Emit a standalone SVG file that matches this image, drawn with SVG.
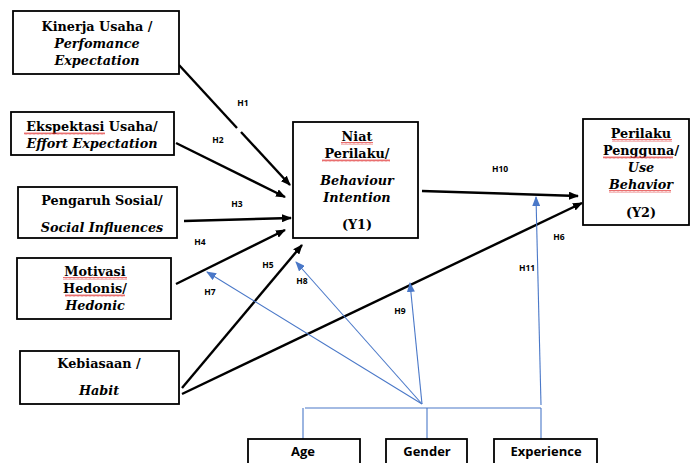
<svg xmlns="http://www.w3.org/2000/svg" width="691" height="463" viewBox="0 0 691 463">
<style>
.box{fill:#fff;stroke:#000;stroke-width:1.8}
.t{font-family:'DejaVu Serif','Liberation Serif',serif;font-weight:700;font-size:12.8px;fill:#000;text-anchor:middle}
.i{font-style:italic}
.s{font-family:'Open Sans','Liberation Sans',Arial,sans-serif;font-weight:bold;font-size:13px;fill:#000;text-anchor:middle}
.h{font-family:'Open Sans','Liberation Sans',Arial,sans-serif;font-weight:bold;font-size:8.5px;fill:#000;text-anchor:middle}
.k{stroke:#000;stroke-width:2.4;fill:none}
.b{stroke:#4a78c8;stroke-width:1.1;fill:none}
</style>
<defs>
<marker id="ak" markerWidth="10" markerHeight="8" refX="9" refY="4" orient="auto" markerUnits="userSpaceOnUse"><path d="M0,0 L10,4 L0,8 Z" fill="#000"/></marker>
<marker id="ab" markerWidth="10" markerHeight="8" refX="9" refY="4" orient="auto" markerUnits="userSpaceOnUse"><path d="M0,0 L10,4 L0,8 Z" fill="#4a78c8"/></marker>
<pattern id="wv" width="4" height="3" patternUnits="userSpaceOnUse"><path d="M0,2.5 L1,0.5 L2,2.5 L3,0.5 L4,2.5" fill="none" stroke="#e03030" stroke-width="0.7"/></pattern>
</defs>

<g id="connectors">
<path class="k" d="M179,65 L237,128"/>
<path class="k" d="M241,132 L290,185" marker-end="url(#ak)"/>
<path class="k" d="M176,143 L285,197" marker-end="url(#ak)"/>
<path class="k" d="M184,221 L291,218" marker-end="url(#ak)"/>
<path class="k" d="M176,284 L285,230" marker-end="url(#ak)"/>
<path class="k" d="M182,388 L302,245" marker-end="url(#ak)"/>
<path class="k" d="M182,394 L582,203" marker-end="url(#ak)"/>
<path class="k" d="M422,191 L578,196" marker-end="url(#ak)"/>
<path class="b" d="M305,408 L541,408"/>
<path class="b" d="M303,408 L303,439"/>
<path class="b" d="M427,408 L427,439"/>
<path class="b" d="M541,408 L541,439"/>
<path class="b" d="M541,405 L536,197" marker-end="url(#ab)"/>
<path class="b" d="M422,404 L207,272" marker-end="url(#ab)"/>
<path class="b" d="M422,404 L296,262" marker-end="url(#ab)"/>
<path class="b" d="M422,404 L410,283" marker-end="url(#ab)"/>
<g id="labels">
<text class="h" x="243" y="106">H1</text>
<text class="h" x="218" y="143">H2</text>
<text class="h" x="237" y="207">H3</text>
<text class="h" x="200" y="245">H4</text>
<text class="h" x="268" y="268">H5</text>
<text class="h" x="210" y="295">H7</text>
<text class="h" x="302" y="284">H8</text>
<text class="h" x="400" y="314">H9</text>
<text class="h" x="500" y="172">H10</text>
<text class="h" x="559" y="240">H6</text>
<text class="h" x="527" y="271">H11</text>
</g>
</g>

<g id="kinerja">
<rect class="box" x="13" y="11" width="166" height="63"/>
<text class="t" x="97" y="31">Kinerja Usaha /</text>
<text class="t i" x="97" y="48">Perfomance</text>
<text class="t i" x="97" y="65">Expectation</text>
</g>
<g id="ekspektasi">
<rect class="box" x="11" y="112" width="163" height="43"/>
<text class="t" x="92" y="131">Ekspektasi Usaha/</text>
<text class="t i" x="92" y="148">Effort Expectation</text>
<rect x="24" y="132" width="81" height="3" fill="url(#wv)"/>
</g>
<g id="pengaruh">
<rect class="box" x="18" y="187" width="159" height="51"/>
<text class="t" x="102" y="205">Pengaruh Sosial/</text>
<text class="t i" x="102" y="232">Social Influences</text>
</g>
<g id="motivasi">
<rect class="box" x="17" y="258" width="154" height="61"/>
<text class="t" x="95" y="276">Motivasi</text>
<text class="t" x="95" y="293">Hedonis/</text>
<text class="t i" x="95" y="310">Hedonic</text>
<rect x="63" y="277" width="64" height="3" fill="url(#wv)"/>
<rect x="65" y="294" width="60" height="3" fill="url(#wv)"/>
</g>
<g id="kebiasaan">
<rect class="box" x="20" y="351" width="159" height="53"/>
<text class="t" x="99" y="368">Kebiasaan /</text>
<text class="t i" x="99" y="395">Habit</text>
</g>
<g id="niat">
<rect class="box" x="293" y="122" width="125" height="116"/>
<text class="t" x="357" y="141">Niat</text>
<text class="t" x="357" y="158">Perilaku/</text>
<text class="t i" x="357" y="185">Behaviour</text>
<text class="t i" x="357" y="202">Intention</text>
<text class="t" x="357" y="229">(Y1)</text>
<rect x="341" y="142" width="32" height="3" fill="url(#wv)"/>
<rect x="322" y="159" width="68" height="3" fill="url(#wv)"/>
</g>
<g id="perilaku">
<rect class="box" x="583" y="119" width="106" height="106"/>
<text class="t" x="641" y="138">Perilaku</text>
<text class="t" x="641" y="155">Pengguna/</text>
<text class="t i" x="641" y="172">Use</text>
<text class="t i" x="641" y="189">Behavior</text>
<text class="t" x="641" y="217">(Y2)</text>
<rect x="612" y="139" width="60" height="3" fill="url(#wv)"/>
<rect x="603" y="156" width="70" height="3" fill="url(#wv)"/>
<rect x="609" y="190" width="62" height="3" fill="url(#wv)"/>
</g>
<g id="age">
<rect class="box" x="248" y="439" width="112" height="30"/>
<text class="s" x="303" y="456">Age</text>
</g>
<g id="gender">
<rect class="box" x="386" y="439" width="81" height="30"/>
<text class="s" x="427" y="456">Gender</text>
</g>
<g id="experience">
<rect class="box" x="494" y="439" width="103" height="30"/>
<text class="s" x="546" y="456">Experience</text>
</g>
</svg>
